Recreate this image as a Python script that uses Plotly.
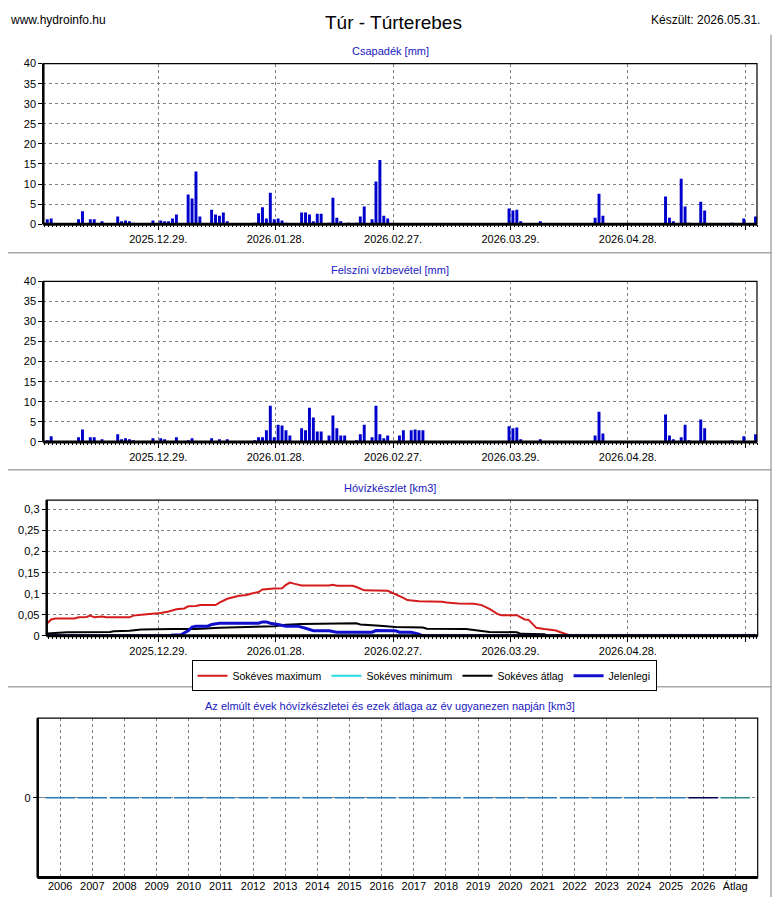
import plotly.graph_objects as go

# the page keeps an 8 px body margin, so the figure is sized to fit inside the window
OFF = 8
W, H = 780 - 2 * OFF, 895
DAY = 86400000

# --- Csapadék [mm] (napi) ---
precip_dates = [
    "2025-12-01", "2025-12-02", "2025-12-09", "2025-12-10", "2025-12-12", "2025-12-13",
    "2025-12-15", "2025-12-19", "2025-12-20", "2025-12-21", "2025-12-22", "2025-12-23",
    "2025-12-28", "2025-12-30", "2025-12-31", "2026-01-01", "2026-01-02", "2026-01-03",
    "2026-01-06", "2026-01-07", "2026-01-08", "2026-01-09", "2026-01-12", "2026-01-13",
    "2026-01-14", "2026-01-15", "2026-01-16", "2026-01-23", "2026-01-24", "2026-01-25",
    "2026-01-26", "2026-01-27", "2026-01-28", "2026-01-29", "2026-01-30", "2026-01-31",
    "2026-02-04", "2026-02-05", "2026-02-06", "2026-02-07", "2026-02-08", "2026-02-09",
    "2026-02-11", "2026-02-12", "2026-02-13", "2026-02-14", "2026-02-16", "2026-02-18",
    "2026-02-19", "2026-02-20", "2026-02-22", "2026-02-23", "2026-02-24", "2026-02-25",
    "2026-02-26", "2026-03-29", "2026-03-30", "2026-03-31", "2026-04-01", "2026-04-06",
    "2026-04-20", "2026-04-21", "2026-04-22", "2026-05-08", "2026-05-09", "2026-05-10",
    "2026-05-12", "2026-05-13", "2026-05-14", "2026-05-17", "2026-05-18", "2026-05-25",
    "2026-05-28", "2026-05-31",
]
precip_mm = [
    1.2, 1.4, 1.2, 3.2, 1.2, 1.2,
    0.7, 1.9, 0.7, 0.9, 0.7, 0.2,
    0.9, 0.9, 0.7, 0.7, 1.4, 2.4,
    7.4, 6.4, 13.1, 1.9, 3.6, 2.4,
    2.1, 2.9, 0.7, 0.2, 2.7, 4.2,
    1.4, 7.8, 1.2, 1.4, 0.9, 0.2,
    2.9, 2.9, 2.4, 0.7, 2.6, 2.6,
    0.2, 6.6, 1.6, 0.7, 0.2, 0.2,
    1.9, 4.4, 1.2, 10.6, 16.0, 2.1,
    1.4, 3.9, 3.4, 3.6, 0.7, 0.7,
    1.6, 7.6, 2.1, 6.9, 1.6, 0.7,
    11.3, 4.4, 0.2, 5.6, 3.4, 0.2,
    1.4, 1.9,
]

# --- Felszíni vízbevétel [mm] (napi) ---
intake_dates = [
    "2025-12-01", "2025-12-02", "2025-12-09", "2025-12-10", "2025-12-12", "2025-12-13",
    "2025-12-15", "2025-12-19", "2025-12-20", "2025-12-21", "2025-12-22", "2025-12-23",
    "2025-12-28", "2025-12-30", "2025-12-31", "2026-01-03", "2026-01-06", "2026-01-07",
    "2026-01-12", "2026-01-14", "2026-01-16", "2026-01-23", "2026-01-24", "2026-01-25",
    "2026-01-26", "2026-01-27", "2026-01-28", "2026-01-29", "2026-01-30", "2026-01-31",
    "2026-02-01", "2026-02-04", "2026-02-05", "2026-02-06", "2026-02-07", "2026-02-08",
    "2026-02-09", "2026-02-11", "2026-02-12", "2026-02-13", "2026-02-14", "2026-02-15",
    "2026-02-18", "2026-02-19", "2026-02-20", "2026-02-22", "2026-02-23", "2026-02-24",
    "2026-02-25", "2026-02-26", "2026-03-01", "2026-03-02", "2026-03-04", "2026-03-05",
    "2026-03-06", "2026-03-07", "2026-03-29", "2026-03-30", "2026-03-31", "2026-04-01",
    "2026-04-06", "2026-04-20", "2026-04-21", "2026-04-22", "2026-05-08", "2026-05-09",
    "2026-05-10", "2026-05-12", "2026-05-13", "2026-05-14", "2026-05-17", "2026-05-18",
    "2026-05-25", "2026-05-28", "2026-05-31",
]
intake_mm = [
    0.2, 1.4, 1.15, 3.1, 1.15, 1.15,
    0.65, 1.9, 0.65, 0.9, 0.65, 0.2,
    0.9, 0.9, 0.65, 1.15, 0.2, 0.9,
    0.9, 0.65, 0.65, 0.2, 1.15, 1.15,
    2.9, 9.0, 1.15, 4.3, 4.1, 2.9,
    1.6, 3.4, 2.9, 8.5, 6.1, 2.6,
    2.6, 1.6, 6.6, 3.4, 1.6, 1.6,
    0.2, 1.9, 4.3, 1.15, 9.0, 1.9,
    0.9, 1.6, 1.6, 2.9, 2.9, 3.1,
    2.9, 2.9, 3.9, 3.4, 3.6, 0.65,
    0.65, 1.6, 7.5, 2.1, 6.8, 1.6,
    0.65, 1.15, 4.3, 0.2, 5.6, 3.4,
    0.2, 1.4, 1.9,
]

# --- Hóvízkészlet [km3] ---
max_dates = [
    "2025-12-01", "2025-12-02", "2025-12-03", "2025-12-08", "2025-12-09", "2025-12-11",
    "2025-12-12", "2025-12-13", "2025-12-15", "2025-12-16", "2025-12-22", "2025-12-23",
    "2025-12-25", "2025-12-28", "2025-12-30", "2026-01-01", "2026-01-03", "2026-01-05",
    "2026-01-06", "2026-01-08", "2026-01-09", "2026-01-13", "2026-01-14", "2026-01-16",
    "2026-01-17", "2026-01-19", "2026-01-21", "2026-01-22", "2026-01-24", "2026-01-25",
    "2026-01-28", "2026-01-30", "2026-01-31", "2026-02-01", "2026-02-02", "2026-02-04",
    "2026-02-11", "2026-02-12", "2026-02-13", "2026-02-17", "2026-02-18", "2026-02-20",
    "2026-02-26", "2026-02-28", "2026-03-02", "2026-03-03", "2026-03-06", "2026-03-12",
    "2026-03-13", "2026-03-16", "2026-03-20", "2026-03-22", "2026-03-24", "2026-03-26",
    "2026-03-27", "2026-03-31", "2026-04-02", "2026-04-03", "2026-04-05", "2026-04-07",
    "2026-04-10", "2026-04-11", "2026-04-13", "2026-04-14", "2026-05-31",
]
max_km3 = [
    0.030, 0.039, 0.041, 0.041, 0.044, 0.045,
    0.048, 0.044, 0.046, 0.044, 0.044, 0.048,
    0.050, 0.052, 0.054, 0.058, 0.063, 0.065,
    0.070, 0.071, 0.073, 0.073, 0.079, 0.088,
    0.090, 0.095, 0.097, 0.100, 0.104, 0.110,
    0.1125, 0.113, 0.121, 0.1265, 0.124, 0.1195,
    0.1195, 0.121, 0.119, 0.119, 0.116, 0.108,
    0.107, 0.099, 0.090, 0.085, 0.082, 0.081,
    0.079, 0.0765, 0.076, 0.073, 0.064, 0.052,
    0.049, 0.049, 0.039, 0.038, 0.019, 0.016,
    0.0125, 0.009, 0.004, 0.0, 0.0,
]

min_dates = ["2025-12-01", "2026-05-31"]
min_km3 = [0.0, 0.0]

avg_dates = [
    "2025-12-01", "2025-12-06", "2025-12-17", "2025-12-18", "2025-12-22", "2025-12-25",
    "2026-01-02", "2026-01-08", "2026-01-14", "2026-01-19", "2026-01-21", "2026-01-28",
    "2026-01-31", "2026-02-04", "2026-02-18", "2026-02-19", "2026-02-24", "2026-02-28",
    "2026-03-07", "2026-03-08", "2026-03-18", "2026-03-21", "2026-03-24", "2026-03-31",
    "2026-04-01", "2026-04-07", "2026-04-08", "2026-04-09", "2026-05-31",
]
avg_km3 = [
    0.0055, 0.0086, 0.0094, 0.011, 0.012, 0.015,
    0.016, 0.0164, 0.019, 0.020, 0.022, 0.023,
    0.0266, 0.028, 0.0297, 0.027, 0.024, 0.021,
    0.020, 0.017, 0.016, 0.0125, 0.0094, 0.0086,
    0.0047, 0.004, 0.001, 0.0, 0.0,
]

cur_dates = [
    "2025-12-01", "2026-01-01", "2026-01-02", "2026-01-04", "2026-01-06", "2026-01-07",
    "2026-01-08", "2026-01-11", "2026-01-12", "2026-01-14", "2026-01-24", "2026-01-25",
    "2026-01-26", "2026-01-27", "2026-01-29", "2026-01-31", "2026-02-03", "2026-02-04",
    "2026-02-05", "2026-02-07", "2026-02-11", "2026-02-13", "2026-02-22", "2026-02-23",
    "2026-02-28", "2026-03-01", "2026-03-04", "2026-03-06", "2026-03-07", "2026-05-31",
]
cur_km3 = [
    0.0, 0.0, 0.002, 0.002, 0.012, 0.021,
    0.023, 0.023, 0.027, 0.030, 0.030, 0.033,
    0.033, 0.030, 0.027, 0.023, 0.023, 0.021,
    0.018, 0.012, 0.012, 0.0086, 0.0086, 0.0125,
    0.012, 0.0086, 0.0086, 0.004, 0.0, 0.0,
]

# --- Az elmúlt évek hóvízkészletei ---
years = [str(y) for y in range(2006, 2027)] + ["Átlag"]
year_km3 = [0.0] * 22
year_colors = ["#2b7bba"] * 20 + ["#000050", "#2e8b8b"]

FONT = "Liberation Sans, Arial, sans-serif"
GRID = "#808080"
TITLE_BLUE = "#2020c0"


# window pixel position -> paper coordinate of the (smaller) figure
def px(x):
    return min(max(x - OFF, 0), W) / W


def py(y):
    return 1 - min(max(y - OFF, 0), H) / H


def date_axis(rng, x0, x1, anchor):
    return dict(
        domain=[px(x0), px(x1)], anchor=anchor, type="date", range=rng,
        tick0="2025-12-29 09:00", dtick=30 * DAY, tickformat="%Y.%m.%d.",
        ticks="outside", ticklen=5, tickcolor="black",
        showgrid=True, gridcolor=GRID, griddash="3px,3px", gridwidth=1,
        showline=False, zeroline=False,
        minor=dict(ticks="outside", ticklen=2, tick0="2025-12-29 09:00", dtick=DAY,
                   tickcolor="black", showgrid=False),
        tickfont=dict(size=11, color="black"),
    )


def val_axis(rng, dtick, y0, y1, anchor):
    return dict(
        domain=[py(y1), py(y0)], anchor=anchor, range=rng, dtick=dtick,
        ticks="outside", ticklen=4, tickcolor="black",
        showgrid=True, gridcolor=GRID, griddash="3px,3px", gridwidth=1,
        showline=False, zeroline=False, tickfont=dict(size=11, color="black"),
    )


fig = go.Figure()

fig.add_trace(go.Bar(x=precip_dates, y=precip_mm, width=0.75 * DAY, marker_color="#0000cd",
                     marker_line_width=0, showlegend=False, xaxis="x", yaxis="y"))
fig.add_trace(go.Bar(x=intake_dates, y=intake_mm, width=0.75 * DAY, marker_color="#0000cd",
                     marker_line_width=0, showlegend=False, xaxis="x2", yaxis="y2"))

fig.add_trace(go.Scatter(x=max_dates, y=max_km3, mode="lines", name="Sokéves maximum",
                         line=dict(color="#d41c1c", width=2), xaxis="x3", yaxis="y3"))
fig.add_trace(go.Scatter(x=min_dates, y=min_km3, mode="lines", name="Sokéves minimum",
                         line=dict(color="#22dddd", width=2), xaxis="x3", yaxis="y3"))
fig.add_trace(go.Scatter(x=avg_dates, y=avg_km3, mode="lines", name="Sokéves átlag",
                         line=dict(color="black", width=2), xaxis="x3", yaxis="y3"))
fig.add_trace(go.Scatter(x=cur_dates, y=cur_km3, mode="lines", name="Jelenlegi",
                         line=dict(color="#1010cc", width=3), xaxis="x3", yaxis="y3"))

fig.add_trace(go.Scatter(x=years, y=year_km3, mode="markers", showlegend=False,
                         marker=dict(symbol="line-ew", size=21,
                                     line=dict(width=1.5, color=year_colors)),
                         xaxis="x4", yaxis="y4"))

shapes = []
for k in ["", "2", "3", "4"]:
    xr, yr = f"x{k} domain", f"y{k} domain"
    shapes.append(dict(type="rect", xref=xr, yref=yr, x0=0, x1=1, y0=0, y1=1,
                       line=dict(color="black", width=1.2), layer="above"))
    shapes.append(dict(type="line", xref=xr, yref=yr, x0=0, x1=0, y0=0, y1=1,
                       line=dict(color="black", width=2.5), layer="above"))
    shapes.append(dict(type="line", xref=xr, yref=yr, x0=0, x1=1, y0=0, y1=0,
                       line=dict(color="black", width=3), layer="above"))

# panel separators
for yy in [250, 470, 690]:
    shapes.append(dict(type="line", xref="paper", yref="paper", x0=0, x1=1,
                       y0=py(yy), y1=py(yy), line=dict(color="#a8a8a8", width=1.5)))
shapes.append(dict(type="line", xref="paper", yref="paper", x0=px(OFF + W - 1),
                   x1=px(OFF + W - 1), y0=py(29), y1=0,
                   line=dict(color="#a8a8a8", width=1.5)))

annotations = [
    dict(text="www.hydroinfo.hu", x=px(4), y=py(14), xanchor="left", yanchor="middle",
         font=dict(size=12, color="black")),
    dict(text="Túr - Túrterebes", x=px(394), y=py(17), xanchor="center", yanchor="middle",
         font=dict(size=19, color="black")),
    dict(text="Készült: 2026.05.31.", x=px(762), y=py(14), xanchor="right", yanchor="middle",
         font=dict(size=12, color="black")),
    dict(text="Csapadék [mm]", x=px(390), y=py(46), xanchor="center", yanchor="middle",
         font=dict(size=11, color=TITLE_BLUE)),
    dict(text="Felszíni vízbevétel [mm]", x=px(390), y=py(267), xanchor="center",
         yanchor="middle", font=dict(size=11, color=TITLE_BLUE)),
    dict(text="Hóvízkészlet [km3]", x=px(390), y=py(488), xanchor="center",
         yanchor="middle", font=dict(size=11, color=TITLE_BLUE)),
    dict(text="Az elmúlt évek hóvízkészletei és ezek átlaga az év ugyanezen napján [km3]",
         x=px(390), y=py(709), xanchor="center", yanchor="middle",
         font=dict(size=11, color=TITLE_BLUE)),
]
for a in annotations:
    a.update(xref="paper", yref="paper", showarrow=False)

fig.update_layout(
    width=W, height=H,
    margin=dict(l=0, r=0, t=0, b=0),
    paper_bgcolor="white", plot_bgcolor="white",
    font=dict(family=FONT, size=11, color="black"),
    separators=", ",
    xaxis=date_axis(["2025-11-29 23:40", "2026-05-31 09:00"], 43.3, 757, "y"),
    yaxis=val_axis([0, 40], 5, 58.3, 221, "x"),
    xaxis2=date_axis(["2025-11-29 23:40", "2026-05-31 09:00"], 43.3, 757, "y2"),
    yaxis2=val_axis([0, 40], 5, 279, 441.7, "x2"),
    xaxis3=date_axis(["2025-11-30 20:15", "2026-05-31 13:20"], 46.7, 757.7, "y3"),
    yaxis3=val_axis([0, 0.3222], 0.05, 500.7, 638.3, "x3"),
    xaxis4=dict(domain=[px(37.7), px(757.7)], anchor="y4", type="category",
                range=[-0.7, 21.7], showgrid=True, gridcolor=GRID, griddash="3px,3px",
                ticks="", showline=False, zeroline=False,
                tickfont=dict(size=11, color="black")),
    yaxis4=dict(domain=[py(883.3), py(721.7)], anchor="x4", range=[-1, 1],
                tickvals=[0], ticks="outside", ticklen=4, tickcolor="black",
                showgrid=True, gridcolor=GRID, griddash="dashdot", zeroline=False,
                showline=False, tickfont=dict(size=11, color="black")),
    legend=dict(orientation="h", x=px(424), xanchor="center", y=py(663), yanchor="top",
                bordercolor="black", borderwidth=1, bgcolor="white",
                font=dict(size=10.5, color="black"), itemwidth=30, tracegroupgap=0),
    shapes=shapes,
    annotations=annotations,
)

fig.write_html("out.html")
